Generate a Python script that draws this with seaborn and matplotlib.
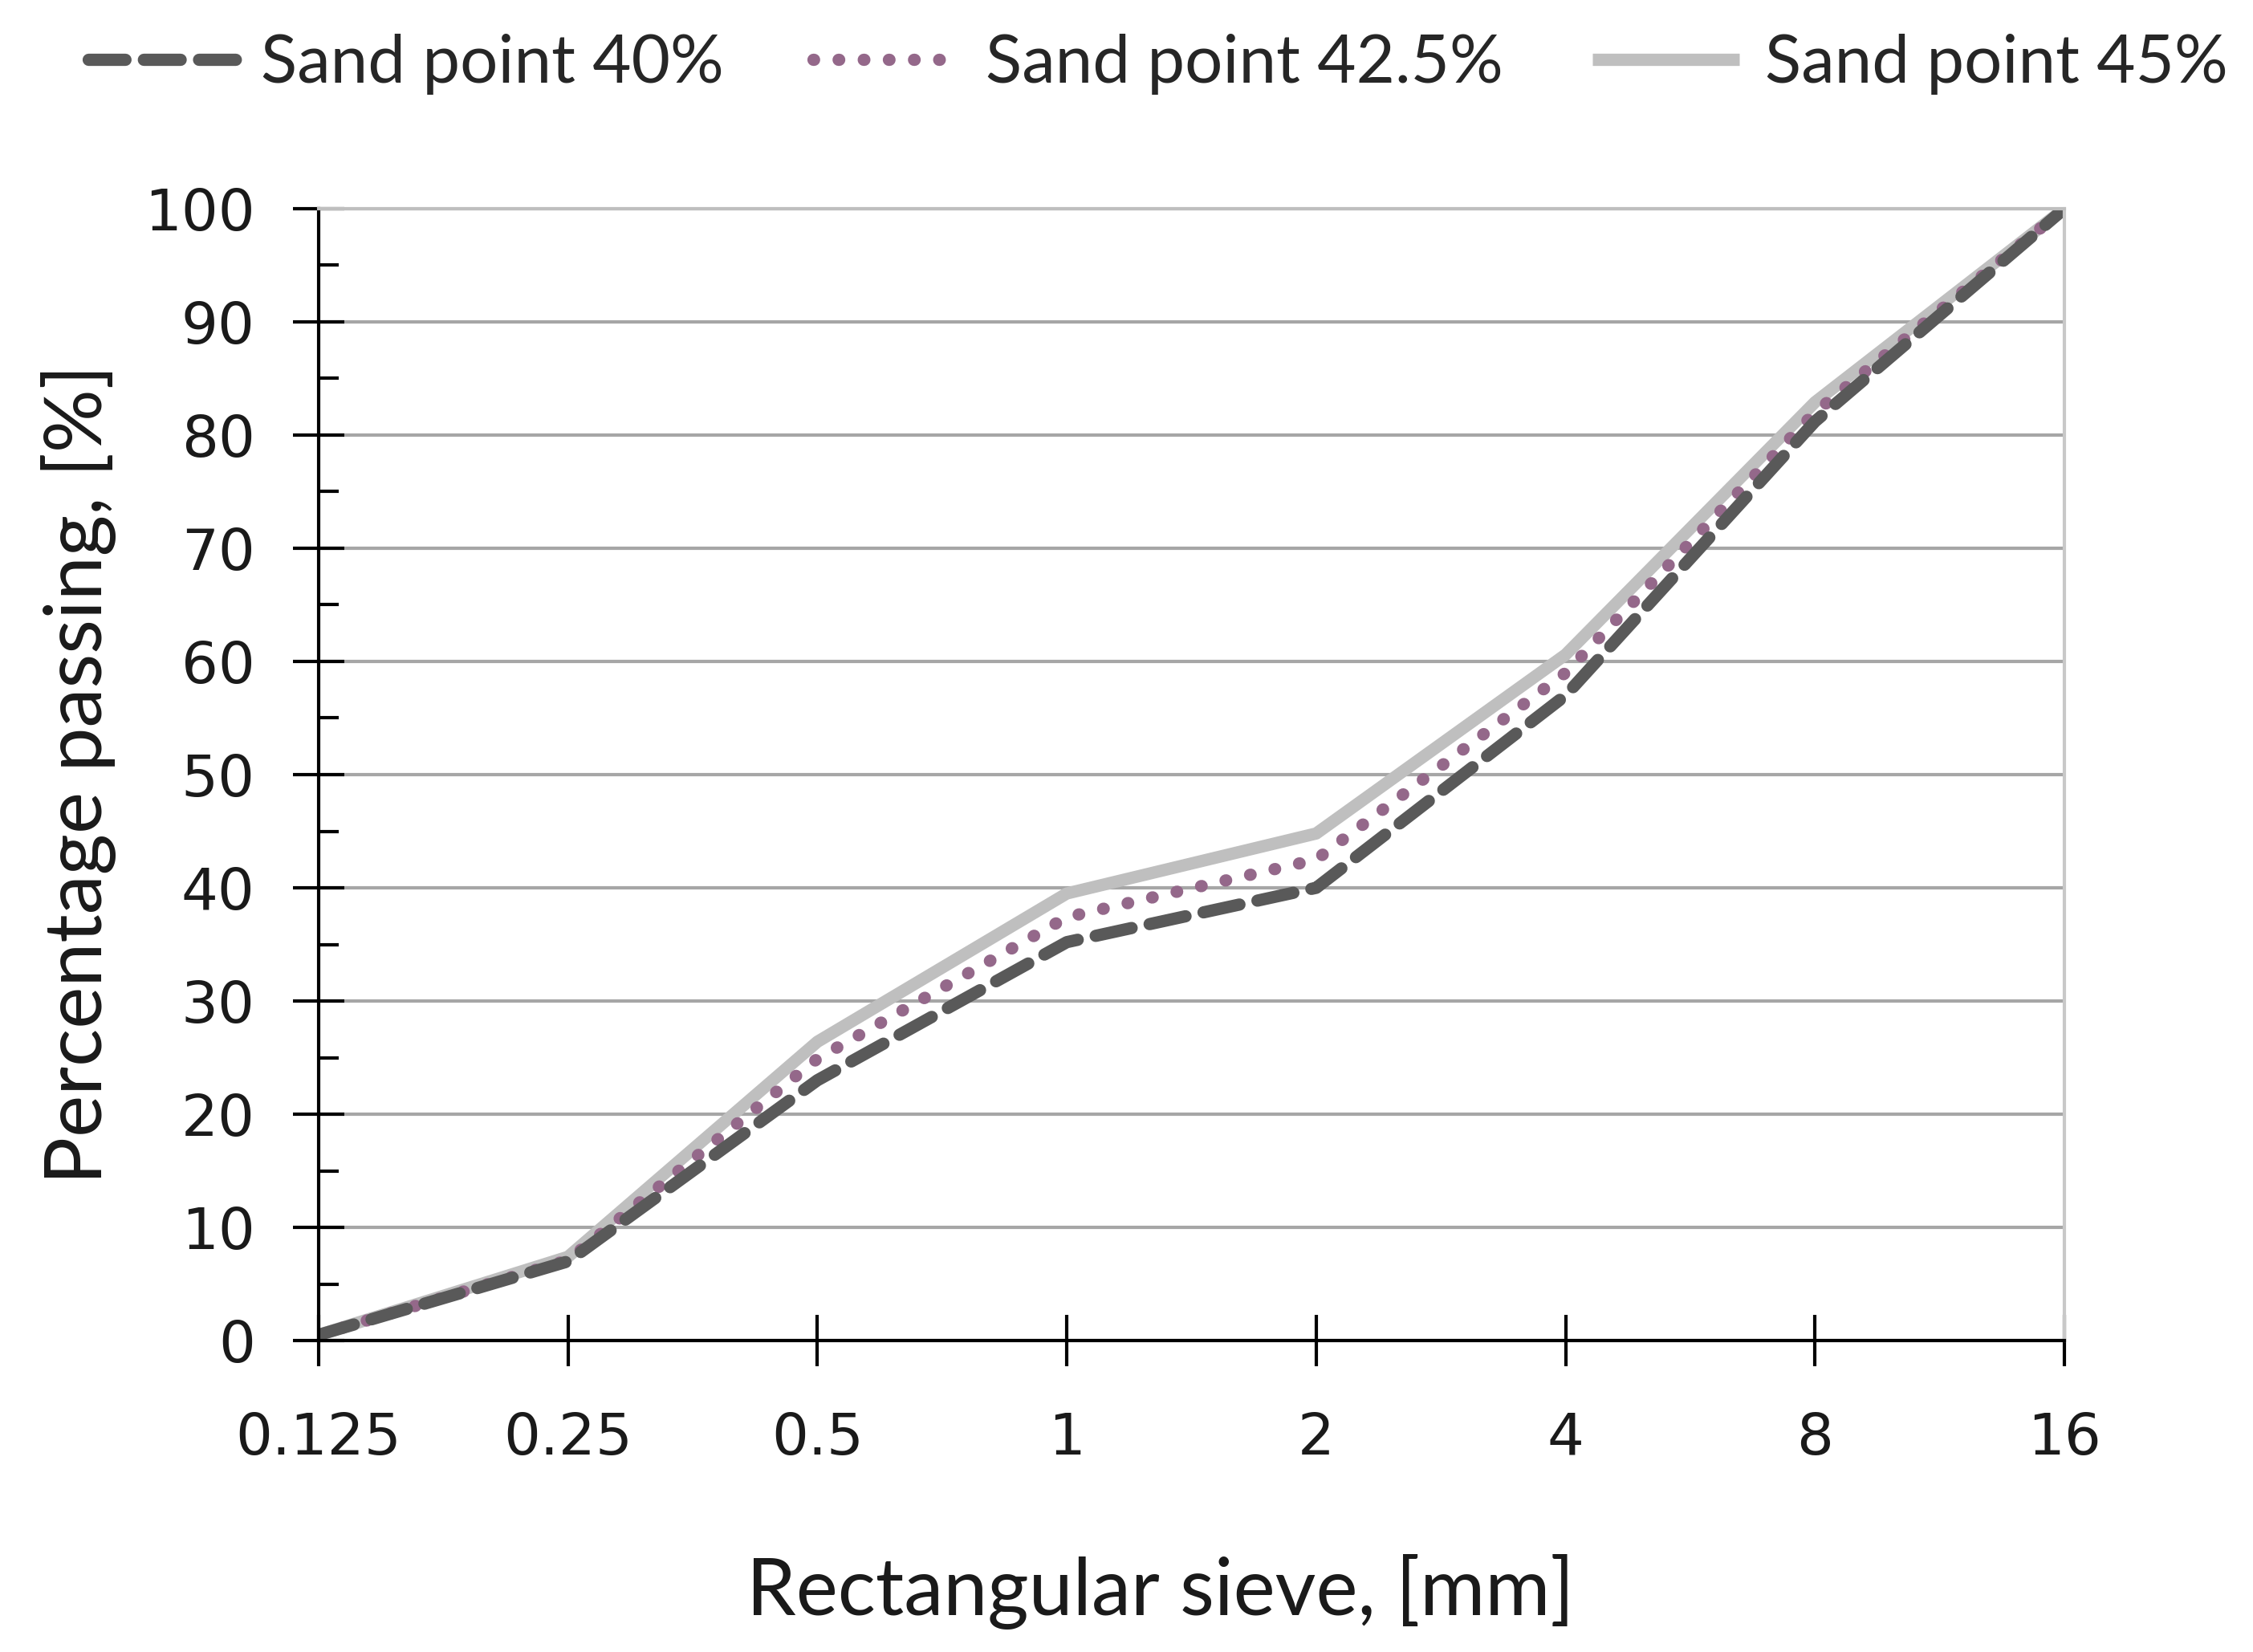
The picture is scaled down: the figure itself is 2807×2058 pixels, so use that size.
"""
    Grading curves - percentage passing vs rectangular sieve size
"""

import numpy as np
import pandas as pd
import seaborn as sns
import matplotlib.pyplot as plt
from matplotlib.ticker import MultipleLocator

# sieve sizes (categorical, evenly spaced on the chart)
sieves = ['0.125', '0.25', '0.5', '1', '2', '4', '8', '16']

# percentage passing for each mix
sand_40 = [0.5, 7.0, 23.0, 35.2, 40.0, 57.0, 81.2, 100.0]
sand_425 = [0.5, 7.1, 24.9, 37.4, 42.5, 59.0, 82.0, 100.0]
sand_45 = [0.5, 7.4, 26.4, 39.5, 44.8, 60.6, 82.9, 100.0]

series_names = ['Sand point 40%', 'Sand point 42.5%', 'Sand point 45%']

sns.set_theme(style='white')
plt.rcParams['font.family'] = ['Lato', 'DejaVu Sans']

fig = plt.figure(figsize=(28.07, 20.58), dpi=100)
ax = fig.add_axes([0.1414, 0.1885, 0.7749, 0.6852])

pos = np.arange(len(sieves))
df = pd.DataFrame({'pos': np.tile(pos, 3),
                   'value': sand_40 + sand_425 + sand_45,
                   'series': np.repeat(series_names, len(sieves))})

palette = {'Sand point 40%': '#595959',
           'Sand point 42.5%': '#94688a',
           'Sand point 45%': '#bfbfbf'}
dashes = {'Sand point 40%': (3.0, 1.5),
          'Sand point 42.5%': (0.05, 2.0),
          'Sand point 45%': ''}

# draw light gray first so darker lines sit on top
for name in reversed(series_names):
    sub = df[df['series'] == name]
    sns.lineplot(data=sub, x='pos', y='value', ax=ax, color=palette[name],
                 linewidth=11, label=name, legend=False,
                 solid_capstyle='butt', dash_capstyle='round')
    if dashes[name]:
        ax.lines[-1].set_dashes(dashes[name])

ax.set_xlim(0, len(sieves) - 1)
ax.set_ylim(0, 100)
ax.set_xticks(pos)
ax.set_xticklabels(sieves)
ax.yaxis.set_major_locator(MultipleLocator(10))
ax.yaxis.set_minor_locator(MultipleLocator(5))

ax.grid(axis='y', color='#a6a6a6', linewidth=3)
ax.grid(axis='x', visible=False)
ax.set_axisbelow(True)

for s in ['left', 'bottom']:
    ax.spines[s].set_color('black')
    ax.spines[s].set_linewidth(3)
ax.spines['top'].set_color('#bfbfbf')
ax.spines['top'].set_linewidth(3)
ax.spines['right'].set_color('#c8c8c8')
ax.spines['right'].set_linewidth(3)

ax.tick_params(axis='both', which='major', direction='inout', length=46,
               width=3, color='black', labelsize=52, left=True, bottom=True)
ax.tick_params(axis='x', pad=40)
ax.tick_params(axis='y', pad=34)
ax.tick_params(axis='y', which='minor', direction='in', length=18, width=3,
               color='black', left=True)
for lab in ax.get_xticklabels() + ax.get_yticklabels():
    lab.set_fontfamily('DejaVu Sans')
    lab.set_color('#1a1a1a')

ax.set_xlabel('Rectangular sieve, [mm]', fontsize=71, color='#1a1a1a')
ax.set_ylabel('Percentage passing, [%]', fontsize=71, color='#1a1a1a')
ax.xaxis.set_label_coords(0.482, -0.222)
ax.xaxis.label.set_va('center')
ax.yaxis.set_label_coords(-0.1375, 0.5)
ax.yaxis.label.set_va('center')

handles, labels = ax.get_legend_handles_labels()
order = [labels.index(n) for n in series_names]
fig.legend([handles[i] for i in order], [labels[i] for i in order],
           loc='center', bbox_to_anchor=(0.514, 0.961), ncol=3,
           frameon=False, fontsize=60, handlelength=2.2, columnspacing=1.33,
           handletextpad=0.38, borderpad=0, borderaxespad=0)

fig.savefig('out.png', dpi=100)
